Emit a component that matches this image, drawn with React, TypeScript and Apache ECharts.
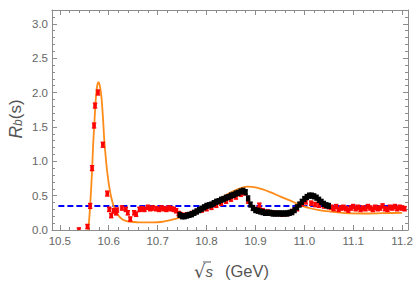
import React, { useEffect, useRef } from 'react';
import * as echarts from 'echarts';

const X_MIN = 10.484;
const X_MAX = 11.212;
const Y_MIN = 0;
const Y_MAX = 3.2;

const xMajorTicks = [10.5, 10.6, 10.7, 10.8, 10.9, 11.0, 11.1, 11.2];
const yMajorTicks = [0, 0.5, 1.0, 1.5, 2.0, 2.5, 3.0];

const redX = [
  10.539, 10.5565, 10.562, 10.566, 10.570, 10.572, 10.578, 10.588, 10.597,
  10.601, 10.605, 10.610, 10.615, 10.617, 10.627, 10.635, 10.639, 10.644, 10.652,
  10.656, 10.663, 10.668, 10.673, 10.680, 10.685, 10.690, 10.697, 10.703, 10.708,
  10.713, 10.718, 10.723, 10.728, 10.733, 10.738, 10.743, 10.748, 10.752,
  10.760, 10.770, 10.780, 10.790, 10.800, 10.810, 10.820, 10.830, 10.840, 10.850,
  10.860, 10.870, 10.878, 10.885, 10.895, 10.905, 10.908, 10.915, 10.925, 10.935,
  10.945, 10.955, 10.965, 10.975, 10.985, 10.995, 11.003, 11.014, 11.022, 11.030,
  11.040, 11.050,
  11.055, 11.060, 11.065, 11.070, 11.075, 11.080, 11.085, 11.090, 11.095, 11.100,
  11.105, 11.110, 11.115, 11.120, 11.125, 11.130, 11.135, 11.140, 11.145, 11.150,
  11.155, 11.160, 11.165, 11.170, 11.175, 11.180, 11.185, 11.190, 11.195, 11.200, 11.205,
];
const redY = [
  0.00, 0.05, 0.35, 0.90, 1.52, 1.81, 2.00, 1.24, 0.53,
  0.30, 0.21, 0.28, 0.25, 0.29, 0.32, 0.30, 0.25, 0.16, 0.25,
  0.23, 0.30, 0.31, 0.30, 0.33, 0.31, 0.32, 0.31, 0.30, 0.32,
  0.31, 0.30, 0.32, 0.31, 0.30, 0.28, 0.24, 0.22, 0.21,
  0.22, 0.24, 0.27, 0.29, 0.31, 0.33, 0.36, 0.39, 0.42, 0.45,
  0.48, 0.52, 0.54, 0.42, 0.32, 0.30, 0.36, 0.28, 0.26, 0.25,
  0.24, 0.23, 0.24, 0.27, 0.31, 0.38, 0.41, 0.39, 0.37, 0.36,
  0.35, 0.34,
  0.33, 0.31, 0.34, 0.30, 0.32, 0.33, 0.31, 0.29, 0.32, 0.34,
  0.31, 0.33, 0.30, 0.32, 0.31, 0.34, 0.32, 0.30, 0.33, 0.31,
  0.32, 0.35, 0.31, 0.30, 0.33, 0.32, 0.34, 0.31, 0.33, 0.32, 0.31,
];
const redErr = redX.map((x) => (x > 10.56 && x < 10.6 ? 0.035 : 0.03));

const blackX = [
  10.745, 10.750, 10.755, 10.760, 10.765, 10.770, 10.775, 10.780, 10.785, 10.790,
  10.795, 10.800, 10.805, 10.810, 10.815, 10.820, 10.825, 10.830, 10.835, 10.840,
  10.845, 10.850, 10.855, 10.860, 10.865, 10.870, 10.875, 10.880, 10.885, 10.890,
  10.895, 10.900, 10.905, 10.910, 10.915, 10.920, 10.925, 10.930, 10.935, 10.940,
  10.945, 10.950, 10.955, 10.960, 10.965, 10.970, 10.975, 10.980, 10.985, 10.990,
  10.995, 11.000, 11.005, 11.010, 11.015, 11.020, 11.025, 11.030, 11.035, 11.040,
  11.045, 11.050,
];
const blackY = [
  0.22, 0.20, 0.20, 0.21, 0.22, 0.23, 0.25, 0.27, 0.29, 0.31,
  0.33, 0.35, 0.36, 0.37, 0.39, 0.41, 0.42, 0.44, 0.45, 0.47,
  0.48, 0.50, 0.51, 0.53, 0.54, 0.56, 0.57, 0.55, 0.46, 0.37,
  0.32, 0.29, 0.28, 0.27, 0.26, 0.25, 0.25, 0.25, 0.24, 0.24,
  0.24, 0.24, 0.24, 0.24, 0.24, 0.25, 0.26, 0.29, 0.33, 0.37,
  0.41, 0.45, 0.48, 0.50, 0.50, 0.49, 0.47, 0.44, 0.41, 0.38,
  0.36, 0.35,
];
const blackErr = blackX.map(() => 0.035);

const fitX = [
  10.558, 10.560, 10.562, 10.564, 10.566, 10.568, 10.571, 10.573, 10.575, 10.577,
  10.579, 10.581, 10.583, 10.585, 10.588, 10.591, 10.594, 10.597, 10.601, 10.605,
  10.610, 10.616, 10.622, 10.629, 10.637, 10.645, 10.665, 10.690, 10.710, 10.730,
  10.750, 10.770, 10.790, 10.810, 10.830, 10.850, 10.870, 10.885, 10.900, 10.915,
  10.930, 10.950, 10.970, 10.990, 11.010, 11.030, 11.050, 11.085, 11.120, 11.160, 11.200,
];
const fitY = [
  0.00, 0.15, 0.35, 0.60, 0.87, 1.22, 1.60, 1.85, 2.02, 2.12,
  2.15, 2.12, 2.05, 1.94, 1.66, 1.30, 1.05, 0.84, 0.63, 0.48,
  0.35, 0.26, 0.19, 0.15, 0.13, 0.12, 0.11, 0.11, 0.12, 0.15,
  0.19, 0.24, 0.30, 0.39, 0.47, 0.55, 0.61, 0.63, 0.62, 0.59,
  0.55, 0.49, 0.43, 0.37, 0.32, 0.29, 0.27, 0.245, 0.24, 0.245, 0.25,
];

const baselineX = [10.497, 11.2];
const baselineY = [0.35, 0.35];

const FRAME = '#8c8c8c';
const LABEL = '#666666';
const TITLE = '#555555';
const FONT = "'Liberation Sans', Arial, sans-serif";

function stepList(a: number, b: number, s: number, exclude: number[]) {
  const out: number[] = [];
  const n = Math.round((b - a) / s);
  for (let i = 0; i <= n; i++) {
    const v = +(a + i * s).toFixed(4);
    if (!exclude.some((e) => Math.abs(e - v) < 1e-6)) out.push(v);
  }
  return out;
}

const xMinorTicks = stepList(10.5, 11.2, 0.02, xMajorTicks);
const yMinorTicks = stepList(0, 3.2, 0.1, yMajorTicks);

function errRender(color: string, half: number, sq: number, lw: number) {
  return (params: any, api: any) => {
    const x = api.value(0);
    const y = api.value(1);
    const e = api.value(2);
    const p = api.coord([x, y]);
    const t = api.coord([x, y + e]);
    const b = api.coord([x, y - e]);
    return {
      type: 'group',
      children: [
        { type: 'line', shape: { x1: p[0], y1: t[1], x2: p[0], y2: b[1] }, style: { stroke: color, lineWidth: lw } },
        { type: 'line', shape: { x1: p[0] - half, y1: t[1], x2: p[0] + half, y2: t[1] }, style: { stroke: color, lineWidth: 1.5 } },
        { type: 'line', shape: { x1: p[0] - half, y1: b[1], x2: p[0] + half, y2: b[1] }, style: { stroke: color, lineWidth: 1.5 } },
        { type: 'rect', shape: { x: p[0] - sq / 2, y: p[1] - sq / 2, width: sq, height: sq }, style: { fill: color } },
      ],
    };
  };
}

function xAxisDef(position: string, ticks: number[], len: number, line: boolean, labels: boolean) {
  return {
    type: 'value',
    position,
    min: X_MIN,
    max: X_MAX,
    axisLine: { show: line, onZero: false, lineStyle: { color: FRAME, width: 1 } },
    axisTick: { show: true, inside: true, length: len, customValues: ticks, lineStyle: { color: FRAME, width: 1 } },
    axisLabel: labels
      ? { show: true, customValues: xMajorTicks, formatter: (v: number) => v.toFixed(1), color: LABEL, fontSize: 11.5, fontFamily: FONT, margin: 5 }
      : { show: false },
    splitLine: { show: false },
    minorTick: { show: false },
  };
}

function yAxisDef(position: string, ticks: number[], len: number, line: boolean, labels: boolean) {
  return {
    type: 'value',
    position,
    min: Y_MIN,
    max: Y_MAX,
    axisLine: { show: line, onZero: false, lineStyle: { color: FRAME, width: 1 } },
    axisTick: { show: true, inside: true, length: len, customValues: ticks, lineStyle: { color: FRAME, width: 1 } },
    axisLabel: labels
      ? { show: true, customValues: yMajorTicks, formatter: (v: number) => v.toFixed(1), color: LABEL, fontSize: 11.5, fontFamily: FONT, margin: 4 }
      : { show: false },
    splitLine: { show: false },
    minorTick: { show: false },
  };
}

export default function App() {
  const ref = useRef<HTMLDivElement>(null);
  useEffect(() => {
    if (!ref.current) return;
    const chart = echarts.init(ref.current, undefined, { renderer: 'svg' });
    const zip = (xs: number[], ys: number[]) => xs.map((x, i) => [x, ys[i]]);
    const zip3 = (xs: number[], ys: number[], es: number[]) => xs.map((x, i) => [x, ys[i], es[i]]);
    chart.setOption({
      animation: false,
      backgroundColor: '#ffffff',
      grid: { left: 52, right: 11, top: 10, bottom: 53, containLabel: false },
      xAxis: [
        xAxisDef('bottom', xMajorTicks, 5, true, true),
        xAxisDef('bottom', xMinorTicks, 3, false, false),
        xAxisDef('top', xMajorTicks, 5, true, false),
        xAxisDef('top', xMinorTicks, 3, false, false),
      ],
      yAxis: [
        yAxisDef('left', yMajorTicks, 5, true, true),
        yAxisDef('left', yMinorTicks, 3, false, false),
        yAxisDef('right', yMajorTicks, 5, true, false),
        yAxisDef('right', yMinorTicks, 3, false, false),
      ],
      graphic: [
        {
          type: 'text',
          x: 15,
          y: 119,
          rotation: Math.PI / 2,
          style: {
            text: '{R|R}{b|b}{n|(s)}',
            align: 'center',
            verticalAlign: 'middle',
            fill: TITLE,
            rich: {
              R: { fontSize: 17.5, fontStyle: 'italic', fontFamily: FONT, fill: TITLE, lineHeight: 17, verticalAlign: 'top' },
              b: { fontSize: 12, fontStyle: 'italic', fontFamily: FONT, fill: TITLE, lineHeight: 12, padding: [9, 0, 0, 0], verticalAlign: 'bottom' },
              n: { fontSize: 17, fontFamily: FONT, fill: TITLE, lineHeight: 17, verticalAlign: 'top' },
            },
          },
        },
        {
          type: 'text',
          x: 194,
          y: 271,
          style: {
            text: '{r|√}{s|s}{n|(GeV)}',
            align: 'left',
            verticalAlign: 'middle',
            fill: TITLE,
            rich: {
              r: { fontSize: 18, fontFamily: "'DejaVu Sans', sans-serif", fill: TITLE },
              s: { fontSize: 15, fontStyle: 'italic', fontFamily: FONT, fill: TITLE },
              n: { fontSize: 16.5, fontFamily: FONT, fill: TITLE, padding: [0, 0, 0, 12] },
            },
          },
        },
        {
          type: 'line',
          shape: { x1: 203, y1: 262, x2: 211, y2: 262 },
          style: { stroke: TITLE, lineWidth: 1 },
        },
      ],
      series: [
        {
          type: 'line',
          data: zip(baselineX, baselineY),
          showSymbol: false,
          symbol: 'none',
          lineStyle: { color: '#0000ff', width: 2, type: [6, 3] },
          z: 2,
        },
        {
          type: 'line',
          data: zip(fitX, fitY),
          showSymbol: false,
          symbol: 'none',
          smooth: 0.3,
          lineStyle: { color: '#ff8c1a', width: 1.8 },
          z: 3,
        },
        {
          type: 'custom',
          renderItem: errRender('#ff0000', 2.2, 3.6, 1.4),
          data: zip3(redX, redY, redErr),
          clip: true,
          z: 4,
        },
        {
          type: 'custom',
          renderItem: errRender('#000000', 2.2, 4.2, 1.6),
          data: zip3(blackX, blackY, blackErr),
          clip: true,
          z: 5,
        },
      ],
    });
    return () => chart.dispose();
  }, []);
  return <div ref={ref} style={{ position: 'fixed', left: 0, top: 0, width: 419, height: 283 }} />;
}
